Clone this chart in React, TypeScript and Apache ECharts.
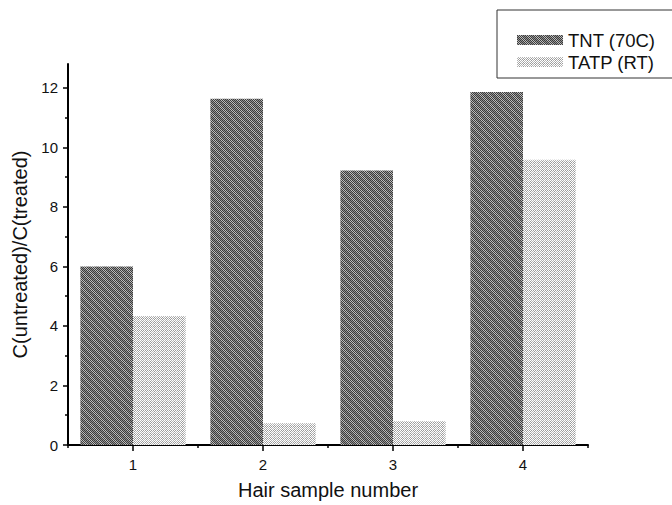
import React, { useEffect, useRef } from "react";
import * as echarts from "echarts";

const categories = ["1", "2", "3", "4"];
const tntValues = [6.0, 11.63, 9.22, 11.86];
const tatpValues = [4.33, 0.73, 0.8, 9.58];
const seriesNames = ["TNT (70C)", "TATP (RT)"];
const yMajorTicks = [0, 2, 4, 6, 8, 10, 12];
const yMinorTicks = [1, 3, 5, 7, 9, 11];

function makeTile(kind: "dark" | "light"): string {
  const size = 8;
  const c = document.createElement("canvas");
  c.width = size;
  c.height = size;
  const ctx = c.getContext("2d");
  if (!ctx) return "";
  for (let y = 0; y < size; y++) {
    for (let x = 0; x < size; x++) {
      let v: number;
      if (kind === "dark") {
        if ((x + y) % 2 === 0) {
          v = 60;
        } else {
          const band = ((x - y + 16) % 8) < 4;
          v = band ? 190 : 145;
        }
      } else {
        if ((x + y) % 2 === 0) {
          v = 255;
        } else {
          const grid = x % 4 === 0 || y % 4 === 0;
          v = grid ? 180 : 155;
        }
      }
      ctx.fillStyle = `rgb(${v},${v},${v})`;
      ctx.fillRect(x, y, 1, 1);
    }
  }
  return c.toDataURL();
}

export default function App() {
  const ref = useRef<HTMLDivElement>(null);
  useEffect(() => {
    if (!ref.current) return;
    const chart = echarts.init(ref.current, null, { renderer: "svg" });
    const darkImg = makeTile("dark");
    const lightImg = makeTile("light");
    const darkFill: any = darkImg
      ? { image: darkImg, repeat: "repeat", imageWidth: 8, imageHeight: 8 }
      : "#707070";
    const lightFill: any = lightImg
      ? { image: lightImg, repeat: "repeat", imageWidth: 8, imageHeight: 8 }
      : "#d0d0d0";
    const font = "'Liberation Sans', Arial, Helvetica, sans-serif";
    chart.setOption({
      animation: false,
      backgroundColor: "#ffffff",
      textStyle: { fontFamily: font, color: "#111" },
      grid: { left: 68, right: 84, top: 64, bottom: 58, containLabel: false },
      legend: {
        show: true,
        orient: "vertical",
        left: 517,
        top: 30,
        padding: 0,
        itemWidth: 46,
        itemHeight: 10,
        itemGap: 2,
        icon: "rect",
        textStyle: { fontSize: 18.5, color: "#111", lineHeight: 20, fontFamily: font },
        data: seriesNames,
      },
      graphic: [
        {
          type: "rect",
          shape: { x: 497, y: 10, width: 220, height: 68 },
          style: { fill: "none", stroke: "#333", lineWidth: 1 },
          silent: true,
        },
      ],
      xAxis: [
        {
          type: "category",
          data: categories,
          position: "bottom",
          name: "Hair sample number",
          nameLocation: "middle",
          nameGap: 35,
          nameTextStyle: { fontSize: 20, color: "#111", fontFamily: font },
          axisLine: { show: true, lineStyle: { color: "#000", width: 2 } },
          axisTick: { show: true, alignWithLabel: true, length: 6, lineStyle: { color: "#000", width: 1.5 } },
          axisLabel: { fontSize: 15, color: "#111", margin: 12, fontFamily: font },
          splitLine: { show: false },
        },
        {
          type: "category",
          data: categories,
          position: "bottom",
          axisLine: { show: false },
          axisTick: { show: true, alignWithLabel: false, length: 3, lineStyle: { color: "#000", width: 1.5 } },
          axisLabel: { show: false },
          splitLine: { show: false },
        },
      ],
      yAxis: [
        {
          type: "value",
          min: 0,
          max: 12.8,
          position: "left",
          name: "C(untreated)/C(treated)",
          nameLocation: "middle",
          nameGap: 38,
          nameRotate: 90,
          nameTextStyle: { fontSize: 20, color: "#111", fontFamily: font },
          axisLine: { show: true, lineStyle: { color: "#000", width: 2 } },
          axisTick: { show: true, length: 5, customValues: yMajorTicks, lineStyle: { color: "#000", width: 1.5 } },
          axisLabel: { fontSize: 15, color: "#111", margin: 10, customValues: yMajorTicks, fontFamily: font },
          splitLine: { show: false },
          minorTick: { show: false },
        },
        {
          type: "value",
          min: 0,
          max: 12.8,
          position: "left",
          axisLine: { show: false },
          axisTick: { show: true, length: 3, customValues: yMinorTicks, lineStyle: { color: "#000", width: 1.5 } },
          axisLabel: { show: false },
          splitLine: { show: false },
        },
      ],
      series: [
        {
          name: seriesNames[0],
          type: "bar",
          xAxisIndex: 0,
          yAxisIndex: 0,
          data: tntValues,
          barGap: "0%",
          barCategoryGap: "19%",
          itemStyle: { color: darkFill },
        },
        {
          name: seriesNames[1],
          type: "bar",
          xAxisIndex: 0,
          yAxisIndex: 0,
          data: tatpValues,
          barGap: "0%",
          barCategoryGap: "19%",
          itemStyle: { color: lightFill },
        },
      ],
    });
    return () => chart.dispose();
  }, []);
  return <div ref={ref} style={{ width: 672, height: 505, position: "absolute", left: 0, top: 0 }} />;
}
